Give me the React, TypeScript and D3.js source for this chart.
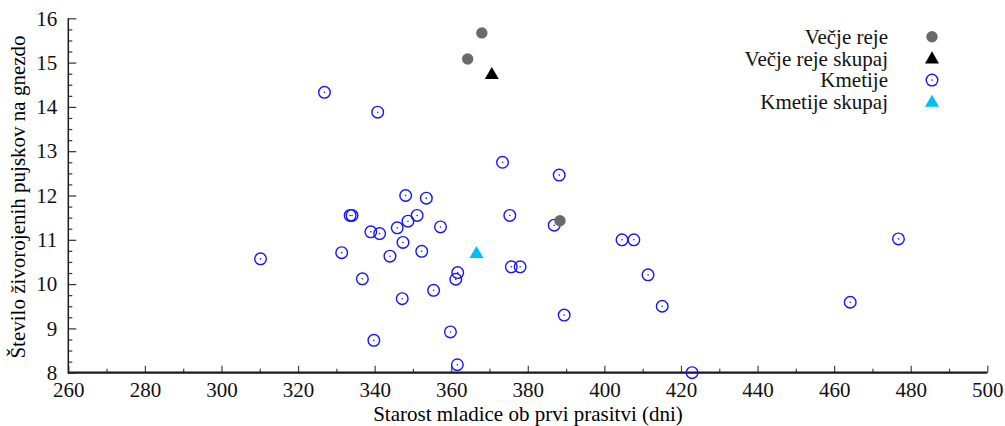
import { useEffect, useRef } from "react";
import * as d3 from "d3";

interface Pt {
  x: number;
  y: number;
}

// Večje reje (gray filled circles)
const vecjeReje: Pt[] = [
  { x: 368.0, y: 15.67 },
  { x: 364.3, y: 15.08 },
  { x: 388.4, y: 11.43 },
];

// Večje reje skupaj (black triangle)
const vecjeRejeSkupaj: Pt[] = [{ x: 370.6, y: 14.72 }];

// Kmetije (blue dotted circles)
const kmetije: Pt[] = [
  { x: 326.9, y: 14.33 },
  { x: 340.8, y: 13.88 },
  { x: 373.4, y: 12.75 },
  { x: 388.2, y: 12.46 },
  { x: 348.1, y: 12.0 },
  { x: 353.5, y: 11.94 },
  { x: 333.6, y: 11.55 },
  { x: 334.1, y: 11.55 },
  { x: 375.3, y: 11.55 },
  { x: 351.1, y: 11.55 },
  { x: 348.7, y: 11.42 },
  { x: 357.2, y: 11.29 },
  { x: 345.9, y: 11.27 },
  { x: 386.9, y: 11.33 },
  { x: 339.0, y: 11.18 },
  { x: 341.3, y: 11.14 },
  { x: 404.6, y: 11.0 },
  { x: 407.7, y: 11.0 },
  { x: 476.8, y: 11.02 },
  { x: 347.4, y: 10.94 },
  { x: 331.4, y: 10.71 },
  { x: 352.3, y: 10.74 },
  { x: 310.2, y: 10.57 },
  { x: 344.0, y: 10.63 },
  { x: 375.7, y: 10.39 },
  { x: 378.0, y: 10.39 },
  { x: 361.7, y: 10.26 },
  { x: 361.2, y: 10.11 },
  { x: 336.8, y: 10.12 },
  { x: 411.4, y: 10.21 },
  { x: 355.4, y: 9.86 },
  { x: 347.2, y: 9.67 },
  { x: 464.2, y: 9.59 },
  { x: 415.1, y: 9.5 },
  { x: 389.5, y: 9.3 },
  { x: 359.8, y: 8.92 },
  { x: 339.8, y: 8.73 },
  { x: 361.6, y: 8.18 },
  { x: 422.9, y: 8.0 },
];

// Kmetije skupaj (cyan triangle)
const kmetijeSkupaj: Pt[] = [{ x: 366.6, y: 10.68 }];

const legendLabels = ["Večje reje", "Večje reje skupaj", "Kmetije", "Kmetije skupaj"];
const xMajorTicks = d3.range(260, 501, 20);
const xMinorTicks = d3.range(270, 500, 20);
const yMajorTicks = d3.range(8, 17, 1);
const yMinorTicks = d3.range(8, 16.01, 0.25).filter((v) => v % 1 !== 0);

const W = 1005;
const H = 426;
const FONT = "'Liberation Serif', 'Times New Roman', serif";
const GRAY = "#6a6a6a";
const BLUE = "#1414ff";
const CYAN = "#00bff5";

export default function App() {
  const svgRef = useRef<SVGSVGElement>(null);

  useEffect(() => {
    if (!svgRef.current) return;
    const svg = d3.select(svgRef.current);
    svg.selectAll("*").remove();

    const x = d3.scaleLinear().domain([260, 500]).range([68.3, 987.3]);
    const y = d3.scaleLinear().domain([8, 16]).range([372.7, 18.3]);
    const x0 = x.range()[0];
    const y0 = y.range()[0];

    // Bottom axis: major + minor ticks pointing inward
    const gx = svg.append("g").attr("transform", `translate(0,${y0})`);
    gx.append("g").call(
      d3
        .axisBottom(x)
        .tickValues(xMajorTicks)
        .tickSizeInner(-7)
        .tickSizeOuter(0)
        .tickPadding(9)
        .tickFormat(d3.format("d"))
    );
    gx.append("g").call(
      d3
        .axisBottom(x)
        .tickValues(xMinorTicks)
        .tickSizeInner(-4)
        .tickSizeOuter(0)
        .tickFormat(() => "")
    );
    gx.selectAll(".domain").remove();
    gx.selectAll("line").attr("stroke", "#444").attr("stroke-width", 1.2);
    gx.selectAll("text")
      .attr("font-family", FONT)
      .attr("font-size", 21)
      .attr("fill", "#111");
    gx.append("line")
      .attr("x1", x0)
      .attr("x2", x.range()[1])
      .attr("stroke", "#1a1a1a")
      .attr("stroke-width", 2.2);

    // Left axis
    const gy = svg.append("g").attr("transform", `translate(${x0},0)`);
    gy.append("g").call(
      d3
        .axisLeft(y)
        .tickValues(yMajorTicks)
        .tickSizeInner(-8)
        .tickSizeOuter(0)
        .tickPadding(11)
        .tickFormat(d3.format("d"))
    );
    gy.append("g").call(
      d3
        .axisLeft(y)
        .tickValues(yMinorTicks)
        .tickSizeInner(-4)
        .tickSizeOuter(0)
        .tickFormat(() => "")
    );
    gy.selectAll(".domain").remove();
    gy.selectAll("line").attr("stroke", "#333").attr("stroke-width", 1.2);
    gy.selectAll("text")
      .attr("font-family", FONT)
      .attr("font-size", 21)
      .attr("fill", "#111");
    gy.append("line")
      .attr("y1", y.range()[1])
      .attr("y2", y0 + 1)
      .attr("stroke", "#1a1a1a")
      .attr("stroke-width", 1.5);

    // Axis titles
    svg
      .append("text")
      .attr("x", 528)
      .attr("y", 420.5)
      .attr("text-anchor", "middle")
      .attr("font-family", FONT)
      .attr("font-size", 21)
      .text("Starost mladice ob prvi prasitvi (dni)");
    svg
      .append("text")
      .attr("transform", `translate(25,197) rotate(-90)`)
      .attr("text-anchor", "middle")
      .attr("font-family", FONT)
      .attr("font-size", 21)
      .text("Število živorojenih pujskov na gnezdo");

    const tri = d3.symbol().type(d3.symbolTriangle).size(85);

    // Kmetije
    const km = svg
      .append("g")
      .selectAll("g")
      .data(kmetije)
      .enter()
      .append("g")
      .attr("transform", (d) => `translate(${x(d.x)},${y(d.y)})`);
    km.append("circle")
      .attr("r", 5.8)
      .attr("fill", "none")
      .attr("stroke", BLUE)
      .attr("stroke-width", 1.4);
    km.append("circle").attr("r", 0.8).attr("fill", BLUE);

    // Večje reje
    svg
      .append("g")
      .selectAll("circle")
      .data(vecjeReje)
      .enter()
      .append("circle")
      .attr("cx", (d) => x(d.x))
      .attr("cy", (d) => y(d.y))
      .attr("r", 5.7)
      .attr("fill", GRAY);

    // Triangles
    svg
      .append("g")
      .selectAll("path")
      .data(vecjeRejeSkupaj)
      .enter()
      .append("path")
      .attr("d", tri)
      .attr("transform", (d) => `translate(${x(d.x)},${y(d.y)})`)
      .attr("fill", "#000");
    svg
      .append("g")
      .selectAll("path")
      .data(kmetijeSkupaj)
      .enter()
      .append("path")
      .attr("d", tri)
      .attr("transform", (d) => `translate(${x(d.x)},${y(d.y)})`)
      .attr("fill", CYAN);

    // Legend
    const rowY = [36.7, 58.4, 80.1, 101.8];
    const leg = svg.append("g");
    legendLabels.forEach((label, i) => {
      leg
        .append("text")
        .attr("x", 888)
        .attr("y", rowY[i])
        .attr("dy", "0.35em")
        .attr("text-anchor", "end")
        .attr("font-family", FONT)
        .attr("font-size", 21)
        .attr("fill", "#111")
        .text(label);
    });
    const mx = 932;
    leg.append("circle").attr("cx", mx).attr("cy", rowY[0]).attr("r", 5.7).attr("fill", GRAY);
    leg
      .append("path")
      .attr("d", tri)
      .attr("transform", `translate(${mx},${rowY[1] + 1})`)
      .attr("fill", "#000");
    leg
      .append("circle")
      .attr("cx", mx)
      .attr("cy", rowY[2])
      .attr("r", 5.8)
      .attr("fill", "none")
      .attr("stroke", BLUE)
      .attr("stroke-width", 1.4);
    leg.append("circle").attr("cx", mx).attr("cy", rowY[2]).attr("r", 0.8).attr("fill", BLUE);
    leg
      .append("path")
      .attr("d", tri)
      .attr("transform", `translate(${mx},${rowY[3] + 1})`)
      .attr("fill", CYAN);
  }, []);

  return (
    <svg
      ref={svgRef}
      width={W}
      height={H}
      style={{ position: "absolute", left: 0, top: 0, background: "#fff" }}
    ></svg>
  );
}
